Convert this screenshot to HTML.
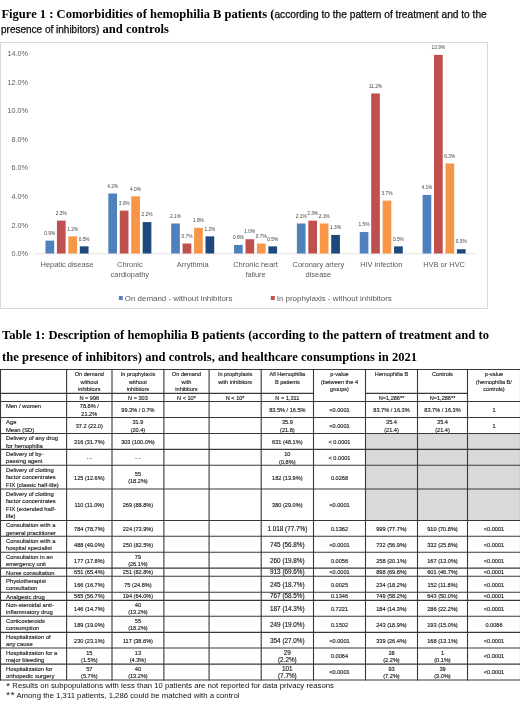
<!DOCTYPE html>
<html><head><meta charset="utf-8"><style>
*{margin:0;padding:0;box-sizing:border-box}
html,body{width:520px;height:721px;overflow:hidden;background:#fff}
body{filter:blur(0.3px)}
body{position:relative;font-family:"Liberation Sans",sans-serif;color:#000}
svg text{font-family:"Liberation Sans",sans-serif}
.c{position:absolute;display:flex;flex-direction:column;line-height:7.6px;color:#111;-webkit-text-stroke:0.15px #333;white-space:nowrap}
.ser{font-family:"Liberation Serif",serif;font-weight:bold}
.t{position:absolute;white-space:nowrap}
.ss{-webkit-text-stroke:0.25px #000;color:#111}
</style></head><body>
<div class="t" style="left:1.4px;top:5px;line-height:16px"><span class="ser" style="font-size:12.55px">Figure 1 : Comorbidities of hemophilia B patients (</span><span class="ss" style="font-size:10.2px">according to the pattern of treatment and to the</span></div>
<div class="t" style="left:1px;top:20px;line-height:16px"><span class="ss" style="font-size:10px">presence of inhibitors)</span><span class="ser" style="font-size:12.55px"> and controls</span></div>
<svg width="520" height="312" viewBox="0 0 520 312" style="position:absolute;left:0;top:0"><rect x="0.5" y="42.5" width="487" height="266" fill="#fff" stroke="#d9d9d9" stroke-width="1"/><text x="28" y="256.1" text-anchor="end" font-size="7.2" fill="#595959">0.0%</text><text x="28" y="227.5" text-anchor="end" font-size="7.2" fill="#595959">2.0%</text><text x="28" y="198.9" text-anchor="end" font-size="7.2" fill="#595959">4.0%</text><text x="28" y="170.4" text-anchor="end" font-size="7.2" fill="#595959">6.0%</text><text x="28" y="141.8" text-anchor="end" font-size="7.2" fill="#595959">8.0%</text><text x="28" y="113.2" text-anchor="end" font-size="7.2" fill="#595959">10.0%</text><text x="28" y="84.6" text-anchor="end" font-size="7.2" fill="#595959">12.0%</text><text x="28" y="56.0" text-anchor="end" font-size="7.2" fill="#595959">14.0%</text><line x1="34" y1="253.7" x2="477" y2="253.7" stroke="#e0dcdc" stroke-width="0.8"/><rect x="45.48" y="240.64" width="8.7" height="12.86" fill="#4F81BD"/><text x="49.83" y="234.84" text-anchor="middle" font-size="4.8" fill="#404040">0.9%</text><rect x="56.92" y="220.63" width="8.7" height="32.87" fill="#C0504D"/><text x="61.27" y="214.83" text-anchor="middle" font-size="4.8" fill="#404040">2.3%</text><rect x="68.38" y="236.35" width="8.7" height="17.15" fill="#F79646"/><text x="72.72" y="230.55" text-anchor="middle" font-size="4.8" fill="#404040">1.2%</text><rect x="79.83" y="246.35" width="8.7" height="7.15" fill="#1F497D"/><text x="84.17" y="240.55" text-anchor="middle" font-size="4.8" fill="#404040">0.5%</text><text x="67.00" y="266.9" text-anchor="middle" font-size="7.45" fill="#595959">Hepatic disease</text><rect x="108.33" y="193.48" width="8.7" height="60.02" fill="#4F81BD"/><text x="112.67" y="187.68" text-anchor="middle" font-size="4.8" fill="#404040">4.2%</text><rect x="119.78" y="210.63" width="8.7" height="42.87" fill="#C0504D"/><text x="124.12" y="204.83" text-anchor="middle" font-size="4.8" fill="#404040">3.0%</text><rect x="131.22" y="196.34" width="8.7" height="57.16" fill="#F79646"/><text x="135.57" y="190.54" text-anchor="middle" font-size="4.8" fill="#404040">4.0%</text><rect x="142.67" y="222.06" width="8.7" height="31.44" fill="#1F497D"/><text x="147.02" y="216.26" text-anchor="middle" font-size="4.8" fill="#404040">2.2%</text><text x="129.85" y="266.9" text-anchor="middle" font-size="7.45" fill="#595959">Chronic</text><text x="129.85" y="277.1" text-anchor="middle" font-size="7.45" fill="#595959">cardiopathy</text><rect x="171.17" y="223.49" width="8.7" height="30.01" fill="#4F81BD"/><text x="175.52" y="217.69" text-anchor="middle" font-size="4.8" fill="#404040">2.1%</text><rect x="182.62" y="243.50" width="8.7" height="10.00" fill="#C0504D"/><text x="186.97" y="237.70" text-anchor="middle" font-size="4.8" fill="#404040">0.7%</text><rect x="194.07" y="227.78" width="8.7" height="25.72" fill="#F79646"/><text x="198.42" y="221.98" text-anchor="middle" font-size="4.8" fill="#404040">1.8%</text><rect x="205.53" y="236.35" width="8.7" height="17.15" fill="#1F497D"/><text x="209.88" y="230.55" text-anchor="middle" font-size="4.8" fill="#404040">1.2%</text><text x="192.70" y="266.9" text-anchor="middle" font-size="7.45" fill="#595959">Arrythmia</text><rect x="234.03" y="244.93" width="8.7" height="8.57" fill="#4F81BD"/><text x="238.38" y="239.13" text-anchor="middle" font-size="4.8" fill="#404040">0.6%</text><rect x="245.48" y="239.21" width="8.7" height="14.29" fill="#C0504D"/><text x="249.83" y="233.41" text-anchor="middle" font-size="4.8" fill="#404040">1.0%</text><rect x="256.93" y="243.50" width="8.7" height="10.00" fill="#F79646"/><text x="261.28" y="237.70" text-anchor="middle" font-size="4.8" fill="#404040">0.7%</text><rect x="268.38" y="246.35" width="8.7" height="7.15" fill="#1F497D"/><text x="272.73" y="240.55" text-anchor="middle" font-size="4.8" fill="#404040">0.5%</text><text x="255.55" y="266.9" text-anchor="middle" font-size="7.45" fill="#595959">Chronic heart</text><text x="255.55" y="277.1" text-anchor="middle" font-size="7.45" fill="#595959">failure</text><rect x="296.87" y="223.49" width="8.7" height="30.01" fill="#4F81BD"/><text x="301.22" y="217.69" text-anchor="middle" font-size="4.8" fill="#404040">2.1%</text><rect x="308.32" y="220.63" width="8.7" height="32.87" fill="#C0504D"/><text x="312.67" y="214.83" text-anchor="middle" font-size="4.8" fill="#404040">2.3%</text><rect x="319.77" y="223.49" width="8.7" height="30.01" fill="#F79646"/><text x="324.12" y="217.69" text-anchor="middle" font-size="4.8" fill="#404040">2.1%</text><rect x="331.22" y="234.92" width="8.7" height="18.58" fill="#1F497D"/><text x="335.57" y="229.12" text-anchor="middle" font-size="4.8" fill="#404040">1.3%</text><text x="318.40" y="266.9" text-anchor="middle" font-size="7.45" fill="#595959">Coronary artery</text><text x="318.40" y="277.1" text-anchor="middle" font-size="7.45" fill="#595959">disease</text><rect x="359.72" y="232.06" width="8.7" height="21.44" fill="#4F81BD"/><text x="364.07" y="226.26" text-anchor="middle" font-size="4.8" fill="#404040">1.5%</text><rect x="371.17" y="93.45" width="8.7" height="160.05" fill="#C0504D"/><text x="375.52" y="87.65" text-anchor="middle" font-size="4.8" fill="#404040">11.2%</text><rect x="382.62" y="200.63" width="8.7" height="52.87" fill="#F79646"/><text x="386.98" y="194.83" text-anchor="middle" font-size="4.8" fill="#404040">3.7%</text><rect x="394.07" y="246.35" width="8.7" height="7.15" fill="#1F497D"/><text x="398.43" y="240.55" text-anchor="middle" font-size="4.8" fill="#404040">0.5%</text><text x="381.25" y="266.9" text-anchor="middle" font-size="7.45" fill="#595959">HIV infection</text><rect x="422.57" y="194.91" width="8.7" height="58.59" fill="#4F81BD"/><text x="426.93" y="189.11" text-anchor="middle" font-size="4.8" fill="#404040">4.1%</text><rect x="434.02" y="54.87" width="8.7" height="198.63" fill="#C0504D"/><text x="438.38" y="49.07" text-anchor="middle" font-size="4.8" fill="#404040">13.9%</text><rect x="445.48" y="163.47" width="8.7" height="90.03" fill="#F79646"/><text x="449.83" y="157.67" text-anchor="middle" font-size="4.8" fill="#404040">6.3%</text><rect x="456.93" y="249.21" width="8.7" height="4.29" fill="#1F497D"/><text x="461.28" y="243.41" text-anchor="middle" font-size="4.8" fill="#404040">0.3%</text><text x="444.10" y="266.9" text-anchor="middle" font-size="7.45" fill="#595959">HVB or HVC</text><rect x="118.9" y="296" width="3.8" height="4" fill="#4F81BD"/><text x="124.8" y="300.7" font-size="7.95" fill="#595959">On demand - without inhibitors</text><rect x="270.8" y="296" width="4" height="4" fill="#C0504D"/><text x="276.7" y="300.7" font-size="7.95" fill="#595959">In prophylaxis - without inhibitors</text></svg>
<div class="t ser" style="left:2px;top:325.0px;font-size:12.55px;line-height:21.6px;word-spacing:0.13px">Table 1: Description of hemophilia B patients (according to the pattern of treatment and to<br>the presence of inhibitors) and controls, and healthcare consumptions in 2021</div>
<div style="position:absolute;left:365.50px;top:433.50px;width:52.00px;height:15.90px;background:#d9d9d9"></div><div style="position:absolute;left:417.50px;top:433.50px;width:50.00px;height:15.90px;background:#d9d9d9"></div><div style="position:absolute;left:467.50px;top:433.50px;width:53.00px;height:15.90px;background:#d9d9d9"></div><div style="position:absolute;left:365.50px;top:449.40px;width:52.00px;height:15.90px;background:#d9d9d9"></div><div style="position:absolute;left:417.50px;top:449.40px;width:50.00px;height:15.90px;background:#d9d9d9"></div><div style="position:absolute;left:467.50px;top:449.40px;width:53.00px;height:15.90px;background:#d9d9d9"></div><div style="position:absolute;left:365.50px;top:465.30px;width:52.00px;height:23.75px;background:#d9d9d9"></div><div style="position:absolute;left:417.50px;top:465.30px;width:50.00px;height:23.75px;background:#d9d9d9"></div><div style="position:absolute;left:467.50px;top:465.30px;width:53.00px;height:23.75px;background:#d9d9d9"></div><div style="position:absolute;left:365.50px;top:489.05px;width:52.00px;height:31.45px;background:#d9d9d9"></div><div style="position:absolute;left:417.50px;top:489.05px;width:50.00px;height:31.45px;background:#d9d9d9"></div><div style="position:absolute;left:467.50px;top:489.05px;width:53.00px;height:31.45px;background:#d9d9d9"></div><svg width="520" height="721" style="position:absolute;left:0;top:0" viewBox="0 0 520 721"><line x1="0" y1="369.5" x2="521" y2="369.5" stroke="#383838" stroke-width="1.1"/><line x1="0.50" y1="393.4" x2="313.50" y2="393.4" stroke="#383838" stroke-width="1.1"/><line x1="365.50" y1="393.4" x2="467.50" y2="393.4" stroke="#383838" stroke-width="1.1"/><line x1="0" y1="401.5" x2="521" y2="401.5" stroke="#383838" stroke-width="1.1"/><line x1="0" y1="417.5" x2="521" y2="417.5" stroke="#383838" stroke-width="1.1"/><line x1="0" y1="433.5" x2="521" y2="433.5" stroke="#383838" stroke-width="1.1"/><line x1="0" y1="449.4" x2="521" y2="449.4" stroke="#383838" stroke-width="1.1"/><line x1="0" y1="465.3" x2="521" y2="465.3" stroke="#383838" stroke-width="1.1"/><line x1="0" y1="489.05" x2="521" y2="489.05" stroke="#383838" stroke-width="1.1"/><line x1="0" y1="520.5" x2="521" y2="520.5" stroke="#383838" stroke-width="1.1"/><line x1="0" y1="536.2" x2="521" y2="536.2" stroke="#383838" stroke-width="1.1"/><line x1="0" y1="552.3" x2="521" y2="552.3" stroke="#383838" stroke-width="1.1"/><line x1="0" y1="568.1" x2="521" y2="568.1" stroke="#383838" stroke-width="1.1"/><line x1="0" y1="576.2" x2="521" y2="576.2" stroke="#383838" stroke-width="1.1"/><line x1="0" y1="592.2" x2="521" y2="592.2" stroke="#383838" stroke-width="1.1"/><line x1="0" y1="600.35" x2="521" y2="600.35" stroke="#383838" stroke-width="1.1"/><line x1="0" y1="616.2" x2="521" y2="616.2" stroke="#383838" stroke-width="1.1"/><line x1="0" y1="632.35" x2="521" y2="632.35" stroke="#383838" stroke-width="1.1"/><line x1="0" y1="648.0" x2="521" y2="648.0" stroke="#383838" stroke-width="1.1"/><line x1="0" y1="664.1" x2="521" y2="664.1" stroke="#383838" stroke-width="1.1"/><line x1="0" y1="680.0" x2="521" y2="680.0" stroke="#383838" stroke-width="1.1"/><line x1="0.5" y1="369.00" x2="0.5" y2="680.50" stroke="#383838" stroke-width="1.1"/><line x1="66.6" y1="369.00" x2="66.6" y2="680.50" stroke="#383838" stroke-width="1.1"/><line x1="112" y1="369.00" x2="112" y2="680.50" stroke="#383838" stroke-width="1.1"/><line x1="163.9" y1="369.00" x2="163.9" y2="680.50" stroke="#383838" stroke-width="1.1"/><line x1="209.1" y1="369.00" x2="209.1" y2="680.50" stroke="#383838" stroke-width="1.1"/><line x1="261.2" y1="369.00" x2="261.2" y2="680.50" stroke="#383838" stroke-width="1.1"/><line x1="313.5" y1="369.00" x2="313.5" y2="680.50" stroke="#383838" stroke-width="1.1"/><line x1="365.5" y1="369.00" x2="365.5" y2="680.50" stroke="#383838" stroke-width="1.1"/><line x1="417.5" y1="369.00" x2="417.5" y2="680.50" stroke="#383838" stroke-width="1.1"/><line x1="467.5" y1="369.00" x2="467.5" y2="680.50" stroke="#383838" stroke-width="1.1"/><line x1="520.5" y1="369.00" x2="520.5" y2="680.50" stroke="#383838" stroke-width="1.1"/></svg><div class="c" style="left:66.60px;top:369.50px;width:45.40px;height:23.90px;text-align:center;justify-content:flex-start;font-size:5.6px;padding-top:1.5px;">On demand<br>without<br>inhibitors</div><div class="c" style="left:66.60px;top:394.80px;width:45.40px;height:8.10px;text-align:center;justify-content:center;font-size:5.6px;line-height:7.7px;">N = 996</div><div class="c" style="left:112.00px;top:369.50px;width:51.90px;height:23.90px;text-align:center;justify-content:flex-start;font-size:5.6px;padding-top:1.5px;">In prophylaxis<br>without<br>inhibitors</div><div class="c" style="left:112.00px;top:394.80px;width:51.90px;height:8.10px;text-align:center;justify-content:center;font-size:5.6px;line-height:7.7px;">N = 303</div><div class="c" style="left:163.90px;top:369.50px;width:45.20px;height:23.90px;text-align:center;justify-content:flex-start;font-size:5.6px;padding-top:1.5px;">On demand<br>with<br>inhibitors</div><div class="c" style="left:163.90px;top:394.80px;width:45.20px;height:8.10px;text-align:center;justify-content:center;font-size:5.6px;line-height:7.7px;">N < 10*</div><div class="c" style="left:209.10px;top:369.50px;width:52.10px;height:23.90px;text-align:center;justify-content:flex-start;font-size:5.6px;padding-top:1.5px;">In prophylaxis<br>with inhibitors</div><div class="c" style="left:209.10px;top:394.80px;width:52.10px;height:8.10px;text-align:center;justify-content:center;font-size:5.6px;line-height:7.7px;">N < 10*</div><div class="c" style="left:261.20px;top:369.50px;width:52.30px;height:23.90px;text-align:center;justify-content:flex-start;font-size:5.6px;padding-top:1.5px;">All Hemophilia<br>B patients</div><div class="c" style="left:261.20px;top:394.80px;width:52.30px;height:8.10px;text-align:center;justify-content:center;font-size:5.6px;line-height:7.7px;">N = 1,311</div><div class="c" style="left:313.50px;top:369.50px;width:52.00px;height:23.90px;text-align:center;justify-content:flex-start;font-size:5.6px;padding-top:1.5px;">p-value<br>(between the 4<br>groups)</div><div class="c" style="left:365.50px;top:369.50px;width:52.00px;height:23.90px;text-align:center;justify-content:flex-start;font-size:5.6px;padding-top:1.5px;">Hemophilia B</div><div class="c" style="left:365.50px;top:394.80px;width:52.00px;height:8.10px;text-align:center;justify-content:center;font-size:5.6px;line-height:7.7px;">N=1,286**</div><div class="c" style="left:417.50px;top:369.50px;width:50.00px;height:23.90px;text-align:center;justify-content:flex-start;font-size:5.6px;padding-top:1.5px;">Controls</div><div class="c" style="left:417.50px;top:394.80px;width:50.00px;height:8.10px;text-align:center;justify-content:center;font-size:5.6px;line-height:7.7px;">N=1,286**</div><div class="c" style="left:467.50px;top:369.50px;width:53.00px;height:23.90px;text-align:center;justify-content:flex-start;font-size:5.6px;padding-top:1.5px;">p-value<br>(hemophilia B/<br>controls)</div><div class="c" style="left:6.00px;top:401.50px;width:60.60px;height:16.00px;text-align:left;justify-content:flex-start;font-size:5.85px;padding-top:1.5px;">Men / women</div><div class="c" style="left:66.60px;top:402.70px;width:45.40px;height:16.00px;text-align:center;justify-content:center;font-size:5.6px;line-height:7.7px;">78.8% /<br>21.2%</div><div class="c" style="left:112.00px;top:402.70px;width:51.90px;height:16.00px;text-align:center;justify-content:center;font-size:5.6px;line-height:7.7px;">99.3% / 0.7%</div><div class="c" style="left:261.20px;top:402.70px;width:52.30px;height:16.00px;text-align:center;justify-content:center;font-size:5.6px;line-height:7.7px;">83.5% / 16.5%</div><div class="c" style="left:313.50px;top:402.70px;width:52.00px;height:16.00px;text-align:center;justify-content:center;font-size:5.6px;line-height:7.7px;"><0.0001</div><div class="c" style="left:365.50px;top:402.70px;width:52.00px;height:16.00px;text-align:center;justify-content:center;font-size:5.6px;line-height:7.7px;">83.7% / 16.3%</div><div class="c" style="left:417.50px;top:402.70px;width:50.00px;height:16.00px;text-align:center;justify-content:center;font-size:5.6px;line-height:7.7px;">83.7% / 16.3%</div><div class="c" style="left:467.50px;top:402.70px;width:53.00px;height:16.00px;text-align:center;justify-content:center;font-size:5.6px;line-height:7.7px;">1</div><div class="c" style="left:6.00px;top:417.50px;width:60.60px;height:16.00px;text-align:left;justify-content:flex-start;font-size:5.85px;padding-top:1.5px;">Age<br>Mean (SD)</div><div class="c" style="left:66.60px;top:418.70px;width:45.40px;height:16.00px;text-align:center;justify-content:center;font-size:5.6px;line-height:7.7px;">37.2 (22.0)</div><div class="c" style="left:112.00px;top:418.70px;width:51.90px;height:16.00px;text-align:center;justify-content:center;font-size:5.6px;line-height:7.7px;">31.9<br>(20.4)</div><div class="c" style="left:261.20px;top:418.70px;width:52.30px;height:16.00px;text-align:center;justify-content:center;font-size:5.6px;line-height:7.7px;">35.9<br>(21.8)</div><div class="c" style="left:313.50px;top:418.70px;width:52.00px;height:16.00px;text-align:center;justify-content:center;font-size:5.6px;line-height:7.7px;"><0.0001</div><div class="c" style="left:365.50px;top:418.70px;width:52.00px;height:16.00px;text-align:center;justify-content:center;font-size:5.6px;line-height:7.7px;">35.4<br>(21.4)</div><div class="c" style="left:417.50px;top:418.70px;width:50.00px;height:16.00px;text-align:center;justify-content:center;font-size:5.6px;line-height:7.7px;">35.4<br>(21.4)</div><div class="c" style="left:467.50px;top:418.70px;width:53.00px;height:16.00px;text-align:center;justify-content:center;font-size:5.6px;line-height:7.7px;">1</div><div class="c" style="left:6.00px;top:433.50px;width:60.60px;height:15.90px;text-align:left;justify-content:flex-start;font-size:5.85px;padding-top:1.5px;">Delivery of any drug<br>for hemophilia</div><div class="c" style="left:66.60px;top:434.70px;width:45.40px;height:15.90px;text-align:center;justify-content:center;font-size:5.6px;line-height:7.7px;">316 (31.7%)</div><div class="c" style="left:112.00px;top:434.70px;width:51.90px;height:15.90px;text-align:center;justify-content:center;font-size:5.6px;line-height:7.7px;">303 (100.0%)</div><div class="c" style="left:261.20px;top:434.70px;width:52.30px;height:15.90px;text-align:center;justify-content:center;font-size:5.6px;line-height:7.7px;">631 (48.1%)</div><div class="c" style="left:313.50px;top:434.70px;width:52.00px;height:15.90px;text-align:center;justify-content:center;font-size:5.6px;line-height:7.7px;">< 0.0001</div><div class="c" style="left:6.00px;top:449.40px;width:60.60px;height:15.90px;text-align:left;justify-content:flex-start;font-size:5.85px;padding-top:1.5px;">Delivery of by-<br>passing agent</div><div class="c" style="left:66.60px;top:450.60px;width:45.40px;height:15.90px;text-align:center;justify-content:center;font-size:5.6px;line-height:7.7px;">- -</div><div class="c" style="left:112.00px;top:450.60px;width:51.90px;height:15.90px;text-align:center;justify-content:center;font-size:5.6px;line-height:7.7px;">- -</div><div class="c" style="left:261.20px;top:450.60px;width:52.30px;height:15.90px;text-align:center;justify-content:center;font-size:5.6px;line-height:7.7px;">10<br>(0.8%)</div><div class="c" style="left:313.50px;top:450.60px;width:52.00px;height:15.90px;text-align:center;justify-content:center;font-size:5.6px;line-height:7.7px;">< 0.0001</div><div class="c" style="left:6.00px;top:465.30px;width:60.60px;height:23.75px;text-align:left;justify-content:flex-start;font-size:5.85px;padding-top:1.5px;">Delivery of clotting<br>factor concentrates<br>FIX (classic half-life)</div><div class="c" style="left:66.60px;top:466.50px;width:45.40px;height:23.75px;text-align:center;justify-content:center;font-size:5.6px;line-height:7.7px;">125 (12.6%)</div><div class="c" style="left:112.00px;top:466.50px;width:51.90px;height:23.75px;text-align:center;justify-content:center;font-size:5.6px;line-height:7.7px;">55<br>(18.2%)</div><div class="c" style="left:261.20px;top:466.50px;width:52.30px;height:23.75px;text-align:center;justify-content:center;font-size:5.6px;line-height:7.7px;">182 (13.9%)</div><div class="c" style="left:313.50px;top:466.50px;width:52.00px;height:23.75px;text-align:center;justify-content:center;font-size:5.6px;line-height:7.7px;">0.0268</div><div class="c" style="left:6.00px;top:489.05px;width:60.60px;height:31.45px;text-align:left;justify-content:flex-start;font-size:5.85px;padding-top:1.5px;">Delivery of clotting<br>factor concentrates<br>FIX (extended half-<br>life)</div><div class="c" style="left:66.60px;top:490.25px;width:45.40px;height:31.45px;text-align:center;justify-content:center;font-size:5.6px;line-height:7.7px;">110 (11.0%)</div><div class="c" style="left:112.00px;top:490.25px;width:51.90px;height:31.45px;text-align:center;justify-content:center;font-size:5.6px;line-height:7.7px;">269 (88.8%)</div><div class="c" style="left:261.20px;top:490.25px;width:52.30px;height:31.45px;text-align:center;justify-content:center;font-size:5.6px;line-height:7.7px;">380 (29.0%)</div><div class="c" style="left:313.50px;top:490.25px;width:52.00px;height:31.45px;text-align:center;justify-content:center;font-size:5.6px;line-height:7.7px;"><0.0001</div><div class="c" style="left:6.00px;top:520.50px;width:60.60px;height:15.70px;text-align:left;justify-content:flex-start;font-size:5.85px;padding-top:1.5px;">Consultation with a<br>general practitioner</div><div class="c" style="left:66.60px;top:521.70px;width:45.40px;height:15.70px;text-align:center;justify-content:center;font-size:5.6px;line-height:7.7px;">784 (78.7%)</div><div class="c" style="left:112.00px;top:521.70px;width:51.90px;height:15.70px;text-align:center;justify-content:center;font-size:5.6px;line-height:7.7px;">224 (73.9%)</div><div class="c" style="left:261.20px;top:520.70px;width:52.30px;height:15.70px;text-align:center;justify-content:center;font-size:6.35px;line-height:7.7px;">1 018 (77.7%)</div><div class="c" style="left:313.50px;top:521.70px;width:52.00px;height:15.70px;text-align:center;justify-content:center;font-size:5.6px;line-height:7.7px;">0.1362</div><div class="c" style="left:365.50px;top:521.70px;width:52.00px;height:15.70px;text-align:center;justify-content:center;font-size:5.6px;line-height:7.7px;">999 (77.7%)</div><div class="c" style="left:417.50px;top:521.70px;width:50.00px;height:15.70px;text-align:center;justify-content:center;font-size:5.6px;line-height:7.7px;">910 (70.8%)</div><div class="c" style="left:467.50px;top:521.70px;width:53.00px;height:15.70px;text-align:center;justify-content:center;font-size:5.6px;line-height:7.7px;"><0.0001</div><div class="c" style="left:6.00px;top:536.20px;width:60.60px;height:16.10px;text-align:left;justify-content:flex-start;font-size:5.85px;padding-top:1.5px;">Consultation with a<br>hospital specialist</div><div class="c" style="left:66.60px;top:537.40px;width:45.40px;height:16.10px;text-align:center;justify-content:center;font-size:5.6px;line-height:7.7px;">488 (49.0%)</div><div class="c" style="left:112.00px;top:537.40px;width:51.90px;height:16.10px;text-align:center;justify-content:center;font-size:5.6px;line-height:7.7px;">250 (82.5%)</div><div class="c" style="left:261.20px;top:536.40px;width:52.30px;height:16.10px;text-align:center;justify-content:center;font-size:6.35px;line-height:7.7px;">745 (56.8%)</div><div class="c" style="left:313.50px;top:537.40px;width:52.00px;height:16.10px;text-align:center;justify-content:center;font-size:5.6px;line-height:7.7px;"><0.0001</div><div class="c" style="left:365.50px;top:537.40px;width:52.00px;height:16.10px;text-align:center;justify-content:center;font-size:5.6px;line-height:7.7px;">732 (56.9%)</div><div class="c" style="left:417.50px;top:537.40px;width:50.00px;height:16.10px;text-align:center;justify-content:center;font-size:5.6px;line-height:7.7px;">332 (25.8%)</div><div class="c" style="left:467.50px;top:537.40px;width:53.00px;height:16.10px;text-align:center;justify-content:center;font-size:5.6px;line-height:7.7px;"><0.0001</div><div class="c" style="left:6.00px;top:552.30px;width:60.60px;height:15.80px;text-align:left;justify-content:flex-start;font-size:5.85px;padding-top:1.5px;">Consultation in an<br>emergency unit</div><div class="c" style="left:66.60px;top:553.50px;width:45.40px;height:15.80px;text-align:center;justify-content:center;font-size:5.6px;line-height:7.7px;">177 (17.8%)</div><div class="c" style="left:112.00px;top:553.50px;width:51.90px;height:15.80px;text-align:center;justify-content:center;font-size:5.6px;line-height:7.7px;">79<br>(26.1%)</div><div class="c" style="left:261.20px;top:552.50px;width:52.30px;height:15.80px;text-align:center;justify-content:center;font-size:6.35px;line-height:7.7px;">260 (19.8%)</div><div class="c" style="left:313.50px;top:553.50px;width:52.00px;height:15.80px;text-align:center;justify-content:center;font-size:5.6px;line-height:7.7px;">0.0056</div><div class="c" style="left:365.50px;top:553.50px;width:52.00px;height:15.80px;text-align:center;justify-content:center;font-size:5.6px;line-height:7.7px;">258 (20.1%)</div><div class="c" style="left:417.50px;top:553.50px;width:50.00px;height:15.80px;text-align:center;justify-content:center;font-size:5.6px;line-height:7.7px;">167 (13.0%)</div><div class="c" style="left:467.50px;top:553.50px;width:53.00px;height:15.80px;text-align:center;justify-content:center;font-size:5.6px;line-height:7.7px;"><0.0001</div><div class="c" style="left:6.00px;top:568.10px;width:60.60px;height:8.10px;text-align:left;justify-content:flex-start;font-size:5.85px;padding-top:1.5px;">Nurse consultation</div><div class="c" style="left:66.60px;top:568.90px;width:45.40px;height:8.10px;text-align:center;justify-content:center;font-size:5.6px;line-height:7.7px;">651 (65.4%)</div><div class="c" style="left:112.00px;top:568.90px;width:51.90px;height:8.10px;text-align:center;justify-content:center;font-size:5.6px;line-height:7.7px;">251 (82.8%)</div><div class="c" style="left:261.20px;top:568.10px;width:52.30px;height:8.10px;text-align:center;justify-content:center;font-size:6.35px;line-height:7.7px;">913 (69.6%)</div><div class="c" style="left:313.50px;top:568.90px;width:52.00px;height:8.10px;text-align:center;justify-content:center;font-size:5.6px;line-height:7.7px;"><0.0001</div><div class="c" style="left:365.50px;top:568.90px;width:52.00px;height:8.10px;text-align:center;justify-content:center;font-size:5.6px;line-height:7.7px;">898 (69.8%)</div><div class="c" style="left:417.50px;top:568.90px;width:50.00px;height:8.10px;text-align:center;justify-content:center;font-size:5.6px;line-height:7.7px;">601 (46.7%)</div><div class="c" style="left:467.50px;top:568.90px;width:53.00px;height:8.10px;text-align:center;justify-content:center;font-size:5.6px;line-height:7.7px;"><0.0001</div><div class="c" style="left:6.00px;top:576.20px;width:60.60px;height:16.00px;text-align:left;justify-content:flex-start;font-size:5.85px;padding-top:1.5px;">Physiotherapist<br>consultation</div><div class="c" style="left:66.60px;top:577.40px;width:45.40px;height:16.00px;text-align:center;justify-content:center;font-size:5.6px;line-height:7.7px;">166 (16.7%)</div><div class="c" style="left:112.00px;top:577.40px;width:51.90px;height:16.00px;text-align:center;justify-content:center;font-size:5.6px;line-height:7.7px;">75 (24.8%)</div><div class="c" style="left:261.20px;top:576.40px;width:52.30px;height:16.00px;text-align:center;justify-content:center;font-size:6.35px;line-height:7.7px;">245 (18.7%)</div><div class="c" style="left:313.50px;top:577.40px;width:52.00px;height:16.00px;text-align:center;justify-content:center;font-size:5.6px;line-height:7.7px;">0.0025</div><div class="c" style="left:365.50px;top:577.40px;width:52.00px;height:16.00px;text-align:center;justify-content:center;font-size:5.6px;line-height:7.7px;">234 (18.2%)</div><div class="c" style="left:417.50px;top:577.40px;width:50.00px;height:16.00px;text-align:center;justify-content:center;font-size:5.6px;line-height:7.7px;">152 (11.8%)</div><div class="c" style="left:467.50px;top:577.40px;width:53.00px;height:16.00px;text-align:center;justify-content:center;font-size:5.6px;line-height:7.7px;"><0.0001</div><div class="c" style="left:6.00px;top:592.20px;width:60.60px;height:8.15px;text-align:left;justify-content:flex-start;font-size:5.85px;padding-top:1.5px;">Analgesic drug</div><div class="c" style="left:66.60px;top:593.00px;width:45.40px;height:8.15px;text-align:center;justify-content:center;font-size:5.6px;line-height:7.7px;">565 (56.7%)</div><div class="c" style="left:112.00px;top:593.00px;width:51.90px;height:8.15px;text-align:center;justify-content:center;font-size:5.6px;line-height:7.7px;">194 (64.0%)</div><div class="c" style="left:261.20px;top:592.20px;width:52.30px;height:8.15px;text-align:center;justify-content:center;font-size:6.35px;line-height:7.7px;">767 (58.5%)</div><div class="c" style="left:313.50px;top:593.00px;width:52.00px;height:8.15px;text-align:center;justify-content:center;font-size:5.6px;line-height:7.7px;">0.1346</div><div class="c" style="left:365.50px;top:593.00px;width:52.00px;height:8.15px;text-align:center;justify-content:center;font-size:5.6px;line-height:7.7px;">749 (58.2%)</div><div class="c" style="left:417.50px;top:593.00px;width:50.00px;height:8.15px;text-align:center;justify-content:center;font-size:5.6px;line-height:7.7px;">643 (50.0%)</div><div class="c" style="left:467.50px;top:593.00px;width:53.00px;height:8.15px;text-align:center;justify-content:center;font-size:5.6px;line-height:7.7px;"><0.0001</div><div class="c" style="left:6.00px;top:600.35px;width:60.60px;height:15.85px;text-align:left;justify-content:flex-start;font-size:5.85px;padding-top:1.5px;">Non-steroidal anti-<br>inflammatory drug</div><div class="c" style="left:66.60px;top:601.55px;width:45.40px;height:15.85px;text-align:center;justify-content:center;font-size:5.6px;line-height:7.7px;">146 (14.7%)</div><div class="c" style="left:112.00px;top:601.55px;width:51.90px;height:15.85px;text-align:center;justify-content:center;font-size:5.6px;line-height:7.7px;">40<br>(13.2%)</div><div class="c" style="left:261.20px;top:600.55px;width:52.30px;height:15.85px;text-align:center;justify-content:center;font-size:6.35px;line-height:7.7px;">187 (14.3%)</div><div class="c" style="left:313.50px;top:601.55px;width:52.00px;height:15.85px;text-align:center;justify-content:center;font-size:5.6px;line-height:7.7px;">0.7221</div><div class="c" style="left:365.50px;top:601.55px;width:52.00px;height:15.85px;text-align:center;justify-content:center;font-size:5.6px;line-height:7.7px;">184 (14.3%)</div><div class="c" style="left:417.50px;top:601.55px;width:50.00px;height:15.85px;text-align:center;justify-content:center;font-size:5.6px;line-height:7.7px;">286 (22.2%)</div><div class="c" style="left:467.50px;top:601.55px;width:53.00px;height:15.85px;text-align:center;justify-content:center;font-size:5.6px;line-height:7.7px;"><0.0001</div><div class="c" style="left:6.00px;top:616.20px;width:60.60px;height:16.15px;text-align:left;justify-content:flex-start;font-size:5.85px;padding-top:1.5px;">Corticosteroids<br>consumption</div><div class="c" style="left:66.60px;top:617.40px;width:45.40px;height:16.15px;text-align:center;justify-content:center;font-size:5.6px;line-height:7.7px;">189 (19.0%)</div><div class="c" style="left:112.00px;top:617.40px;width:51.90px;height:16.15px;text-align:center;justify-content:center;font-size:5.6px;line-height:7.7px;">55<br>(18.2%)</div><div class="c" style="left:261.20px;top:616.40px;width:52.30px;height:16.15px;text-align:center;justify-content:center;font-size:6.35px;line-height:7.7px;">249 (19.0%)</div><div class="c" style="left:313.50px;top:617.40px;width:52.00px;height:16.15px;text-align:center;justify-content:center;font-size:5.6px;line-height:7.7px;">0.1502</div><div class="c" style="left:365.50px;top:617.40px;width:52.00px;height:16.15px;text-align:center;justify-content:center;font-size:5.6px;line-height:7.7px;">243 (18.9%)</div><div class="c" style="left:417.50px;top:617.40px;width:50.00px;height:16.15px;text-align:center;justify-content:center;font-size:5.6px;line-height:7.7px;">193 (15.0%)</div><div class="c" style="left:467.50px;top:617.40px;width:53.00px;height:16.15px;text-align:center;justify-content:center;font-size:5.6px;line-height:7.7px;">0.0086</div><div class="c" style="left:6.00px;top:632.35px;width:60.60px;height:15.65px;text-align:left;justify-content:flex-start;font-size:5.85px;padding-top:1.5px;">Hospitalization of<br>any cause</div><div class="c" style="left:66.60px;top:633.55px;width:45.40px;height:15.65px;text-align:center;justify-content:center;font-size:5.6px;line-height:7.7px;">230 (23.1%)</div><div class="c" style="left:112.00px;top:633.55px;width:51.90px;height:15.65px;text-align:center;justify-content:center;font-size:5.6px;line-height:7.7px;">117 (38.6%)</div><div class="c" style="left:261.20px;top:632.55px;width:52.30px;height:15.65px;text-align:center;justify-content:center;font-size:6.35px;line-height:7.7px;">354 (27.0%)</div><div class="c" style="left:313.50px;top:633.55px;width:52.00px;height:15.65px;text-align:center;justify-content:center;font-size:5.6px;line-height:7.7px;"><0.0001</div><div class="c" style="left:365.50px;top:633.55px;width:52.00px;height:15.65px;text-align:center;justify-content:center;font-size:5.6px;line-height:7.7px;">339 (26.4%)</div><div class="c" style="left:417.50px;top:633.55px;width:50.00px;height:15.65px;text-align:center;justify-content:center;font-size:5.6px;line-height:7.7px;">168 (13.1%)</div><div class="c" style="left:467.50px;top:633.55px;width:53.00px;height:15.65px;text-align:center;justify-content:center;font-size:5.6px;line-height:7.7px;"><0.0001</div><div class="c" style="left:6.00px;top:648.00px;width:60.60px;height:16.10px;text-align:left;justify-content:flex-start;font-size:5.85px;padding-top:1.5px;">Hospitalization for a<br>major bleeding</div><div class="c" style="left:66.60px;top:649.20px;width:45.40px;height:16.10px;text-align:center;justify-content:center;font-size:5.6px;line-height:7.7px;">15<br>(1.5%)</div><div class="c" style="left:112.00px;top:649.20px;width:51.90px;height:16.10px;text-align:center;justify-content:center;font-size:5.6px;line-height:7.7px;">13<br>(4.3%)</div><div class="c" style="left:261.20px;top:648.20px;width:52.30px;height:16.10px;text-align:center;justify-content:center;font-size:6.35px;line-height:7.7px;">29<br>(2.2%)</div><div class="c" style="left:313.50px;top:649.20px;width:52.00px;height:16.10px;text-align:center;justify-content:center;font-size:5.6px;line-height:7.7px;">0.0064</div><div class="c" style="left:365.50px;top:649.20px;width:52.00px;height:16.10px;text-align:center;justify-content:center;font-size:5.6px;line-height:7.7px;">28<br>(2.2%)</div><div class="c" style="left:417.50px;top:649.20px;width:50.00px;height:16.10px;text-align:center;justify-content:center;font-size:5.6px;line-height:7.7px;">1<br>(0.1%)</div><div class="c" style="left:467.50px;top:649.20px;width:53.00px;height:16.10px;text-align:center;justify-content:center;font-size:5.6px;line-height:7.7px;"><0.0001</div><div class="c" style="left:6.00px;top:664.10px;width:60.60px;height:15.90px;text-align:left;justify-content:flex-start;font-size:5.85px;padding-top:1.5px;">Hospitalization for<br>orthopedic surgery</div><div class="c" style="left:66.60px;top:665.30px;width:45.40px;height:15.90px;text-align:center;justify-content:center;font-size:5.6px;line-height:7.7px;">57<br>(5.7%)</div><div class="c" style="left:112.00px;top:665.30px;width:51.90px;height:15.90px;text-align:center;justify-content:center;font-size:5.6px;line-height:7.7px;">40<br>(13.2%)</div><div class="c" style="left:261.20px;top:664.30px;width:52.30px;height:15.90px;text-align:center;justify-content:center;font-size:6.35px;line-height:7.7px;">101<br>(7.7%)</div><div class="c" style="left:313.50px;top:665.30px;width:52.00px;height:15.90px;text-align:center;justify-content:center;font-size:5.6px;line-height:7.7px;"><0.0001</div><div class="c" style="left:365.50px;top:665.30px;width:52.00px;height:15.90px;text-align:center;justify-content:center;font-size:5.6px;line-height:7.7px;">93<br>(7.2%)</div><div class="c" style="left:417.50px;top:665.30px;width:50.00px;height:15.90px;text-align:center;justify-content:center;font-size:5.6px;line-height:7.7px;">39<br>(3.0%)</div><div class="c" style="left:467.50px;top:665.30px;width:53.00px;height:15.90px;text-align:center;justify-content:center;font-size:5.6px;line-height:7.7px;"><0.0001</div>
<div class="t" style="left:6.3px;top:680.6px;font-size:9.5px;line-height:9.6px;color:#111">*<br>*&#8202;*</div>
<div class="t" style="left:12.3px;top:680.9px;font-size:7.74px;line-height:9.6px;color:#111">Results on subpopulations with less than 10 patients are not reported for data privacy reasons</div>
<div class="t" style="left:16.4px;top:690.5px;font-size:7.77px;line-height:9.6px;color:#111">Among the 1,311 patients, 1,286 could be matched with a control</div>
</body></html>
